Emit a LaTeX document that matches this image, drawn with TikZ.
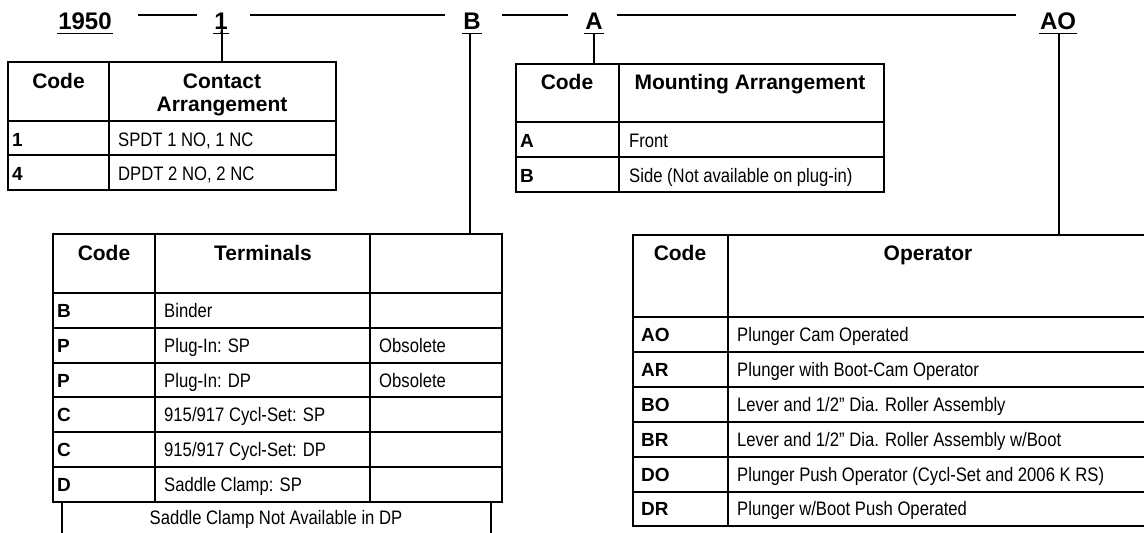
\documentclass[tikz,border=0pt]{standalone}
\usepackage{fontspec}
\setmainfont{Liberation Sans}
\newfontfamily\narrowfont{Liberation Sans}[FakeStretch=0.855]
\begin{document}
\begin{tikzpicture}[x=1pt,y=-1pt,
  tab/.style={line width=1.8pt, line cap=rect},
  conn/.style={line width=1.8pt},
  hdr/.style={font=\bfseries\fontsize{21}{23}\selectfont, inner sep=0pt, anchor=base},
  codetxt/.style={font=\bfseries\fontsize{19}{22}\selectfont, anchor=base west, inner sep=0pt},
  desc/.style={font=\narrowfont\fontsize{19.5}{22}\selectfont, anchor=base west, inner sep=0pt},
  toplabel/.style={font=\bfseries\fontsize{24}{28}\selectfont, anchor=base, inner xsep=1pt, inner ysep=0pt}]
\useasboundingbox[fill=white] (0,0) rectangle (1144,533);

% ---- top code line ----
\node[toplabel] (l1950) at (85,29.5) {1950};
\node[toplabel] (lone) at (221,29.5) {1};
\node[toplabel] (lB) at (472,29.5) {B};
\node[toplabel] (lA) at (594,29.5) {A};
\node[toplabel] (lAO) at (1058,29.5) {AO};
\foreach \n in {l1950,lone,lB,lA,lAO}{
  \draw[conn] ([yshift=-4pt]\n.base west) -- ([yshift=-4pt]\n.base east);
}
\coordinate (h1a) at (138,15); \coordinate (h1b) at (197,15);
\coordinate (h2a) at (250,15); \coordinate (h2b) at (445,15);
\coordinate (h3a) at (502,15); \coordinate (h3b) at (568,15);
\coordinate (h4a) at (617,15); \coordinate (h4b) at (1016,15);
\draw[conn] (h1a) -- (h1b);
\draw[conn] (h2a) -- (h2b);
\draw[conn] (h3a) -- (h3b);
\draw[conn] (h4a) -- (h4b);

% table tops for connectors
\coordinate (ctop) at (222,62);
\coordinate (ttop) at (470,234);
\coordinate (mtop) at (594,64);
\coordinate (otop) at (1059,235);
\draw[conn] ([yshift=-4pt]lone.base) -- (lone.base -| ctop) -- (ctop);
\draw[conn] (470,33) -- (ttop);
\draw[conn] ([yshift=-4pt]lA.base) -- (mtop);
\draw[conn] (1059,33) -- (otop);

% ---- Contact Arrangement table ----
\draw[tab] (8,62) rectangle (336,190);
\draw[tab] (109,62) -- (109,190);
\draw[tab] (8,121) -- (336,121);
\draw[tab] (8,155) -- (336,155);
\node[hdr] (chc) at (58.5,88) {Code};
\node[hdr] (chd1) at (222,88) {Contact};
\node[hdr] (chd2) at (222,111) {Arrangement};
\node[codetxt] (cc1) at (12,146) {1};
\node[desc] (cd1) at (118,146) {SPDT 1 NO, 1 NC};
\node[codetxt] (cc2) at (12,180) {4};
\node[desc] (cd2) at (118,180) {DPDT 2 NO, 2 NC};

% ---- Mounting Arrangement table ----
\draw[tab] (516,64) rectangle (884,192);
\draw[tab] (619,64) -- (619,192);
\draw[tab] (516,122) -- (884,122);
\draw[tab] (516,157) -- (884,157);
\node[hdr] (mhc) at (567,89) {Code};
\node[hdr] (mhd) at (750,89) {Mounting Arrangement};
\node[codetxt] (mc1) at (520,147) {A};
\node[desc] (md1) at (629,147) {Front};
\node[codetxt] (mc2) at (520,182) {B};
\node[desc] (md2) at (629,182) {Side (Not available on plug-in)};

% ---- Terminals table ----
\draw[tab] (53,234) rectangle (502,502);
\draw[tab] (155,234) -- (155,502);
\draw[tab] (370,234) -- (370,502);
\foreach \yy in {293,328,363,397,432,467}{
  \draw[tab] (53,\yy) -- (502,\yy);
}
\draw[tab] (62,502) -- (62,540);
\draw[tab] (491,502) -- (491,540);
\node[hdr] (thc) at (104,260) {Code};
\node[hdr] (thd) at (263,260) {Terminals};
\node[codetxt] (tc1) at (57,317.5) {B};
\node[desc] (td1) at (164,317.5) {Binder};
\node[codetxt] (tc2) at (57,352.5) {P};
\node[desc] (td2) at (164,352.5) {Plug-In: SP};
\node[desc] (tn2) at (379,352.5) {Obsolete};
\node[codetxt] (tc3) at (57,387) {P};
\node[desc] (td3) at (164,387) {Plug-In: DP};
\node[desc] (tn3) at (379,387) {Obsolete};
\node[codetxt] (tc4) at (57,421.5) {C};
\node[desc] (td4) at (164,421.5) {915/917 Cycl-Set: SP};
\node[codetxt] (tc5) at (57,456.5) {C};
\node[desc] (td5) at (164,456.5) {915/917 Cycl-Set: DP};
\node[codetxt] (tc6) at (57,491) {D};
\node[desc] (td6) at (164,491) {Saddle Clamp: SP};
\node[desc, anchor=base] (tfoot) at (276,524) {Saddle Clamp Not Available in DP};

% ---- Operator table ----
\draw[tab] (1150,235) -- (633,235) -- (633,526) -- (1150,526);
\draw[tab] (728,235) -- (728,526);
\foreach \yy in {317,352,387,422,457,492}{
  \draw[tab] (633,\yy) -- (1150,\yy);
}
\node[hdr] (ohc) at (680,260) {Code};
\node[hdr] (ohd) at (928,260) {Operator};
\node[codetxt] (oc1) at (641,341.5) {AO};
\node[desc] (od1) at (737,341.5) {Plunger Cam Operated};
\node[codetxt] (oc2) at (641,376.5) {AR};
\node[desc] (od2) at (737,376.5) {Plunger with Boot-Cam Operator};
\node[codetxt] (oc3) at (641,411) {BO};
\node[desc] (od3) at (737,411) {Lever and 1/2” Dia. Roller Assembly};
\node[codetxt] (oc4) at (641,446) {BR};
\node[desc] (od4) at (737,446) {Lever and 1/2” Dia. Roller Assembly w/Boot};
\node[codetxt] (oc5) at (641,481) {DO};
\node[desc] (od5) at (737,481) {Plunger Push Operator (Cycl-Set and 2006 K RS)};
\node[codetxt] (oc6) at (641,515.5) {DR};
\node[desc] (od6) at (737,515.5) {Plunger w/Boot Push Operated};
\end{tikzpicture}
\end{document}
